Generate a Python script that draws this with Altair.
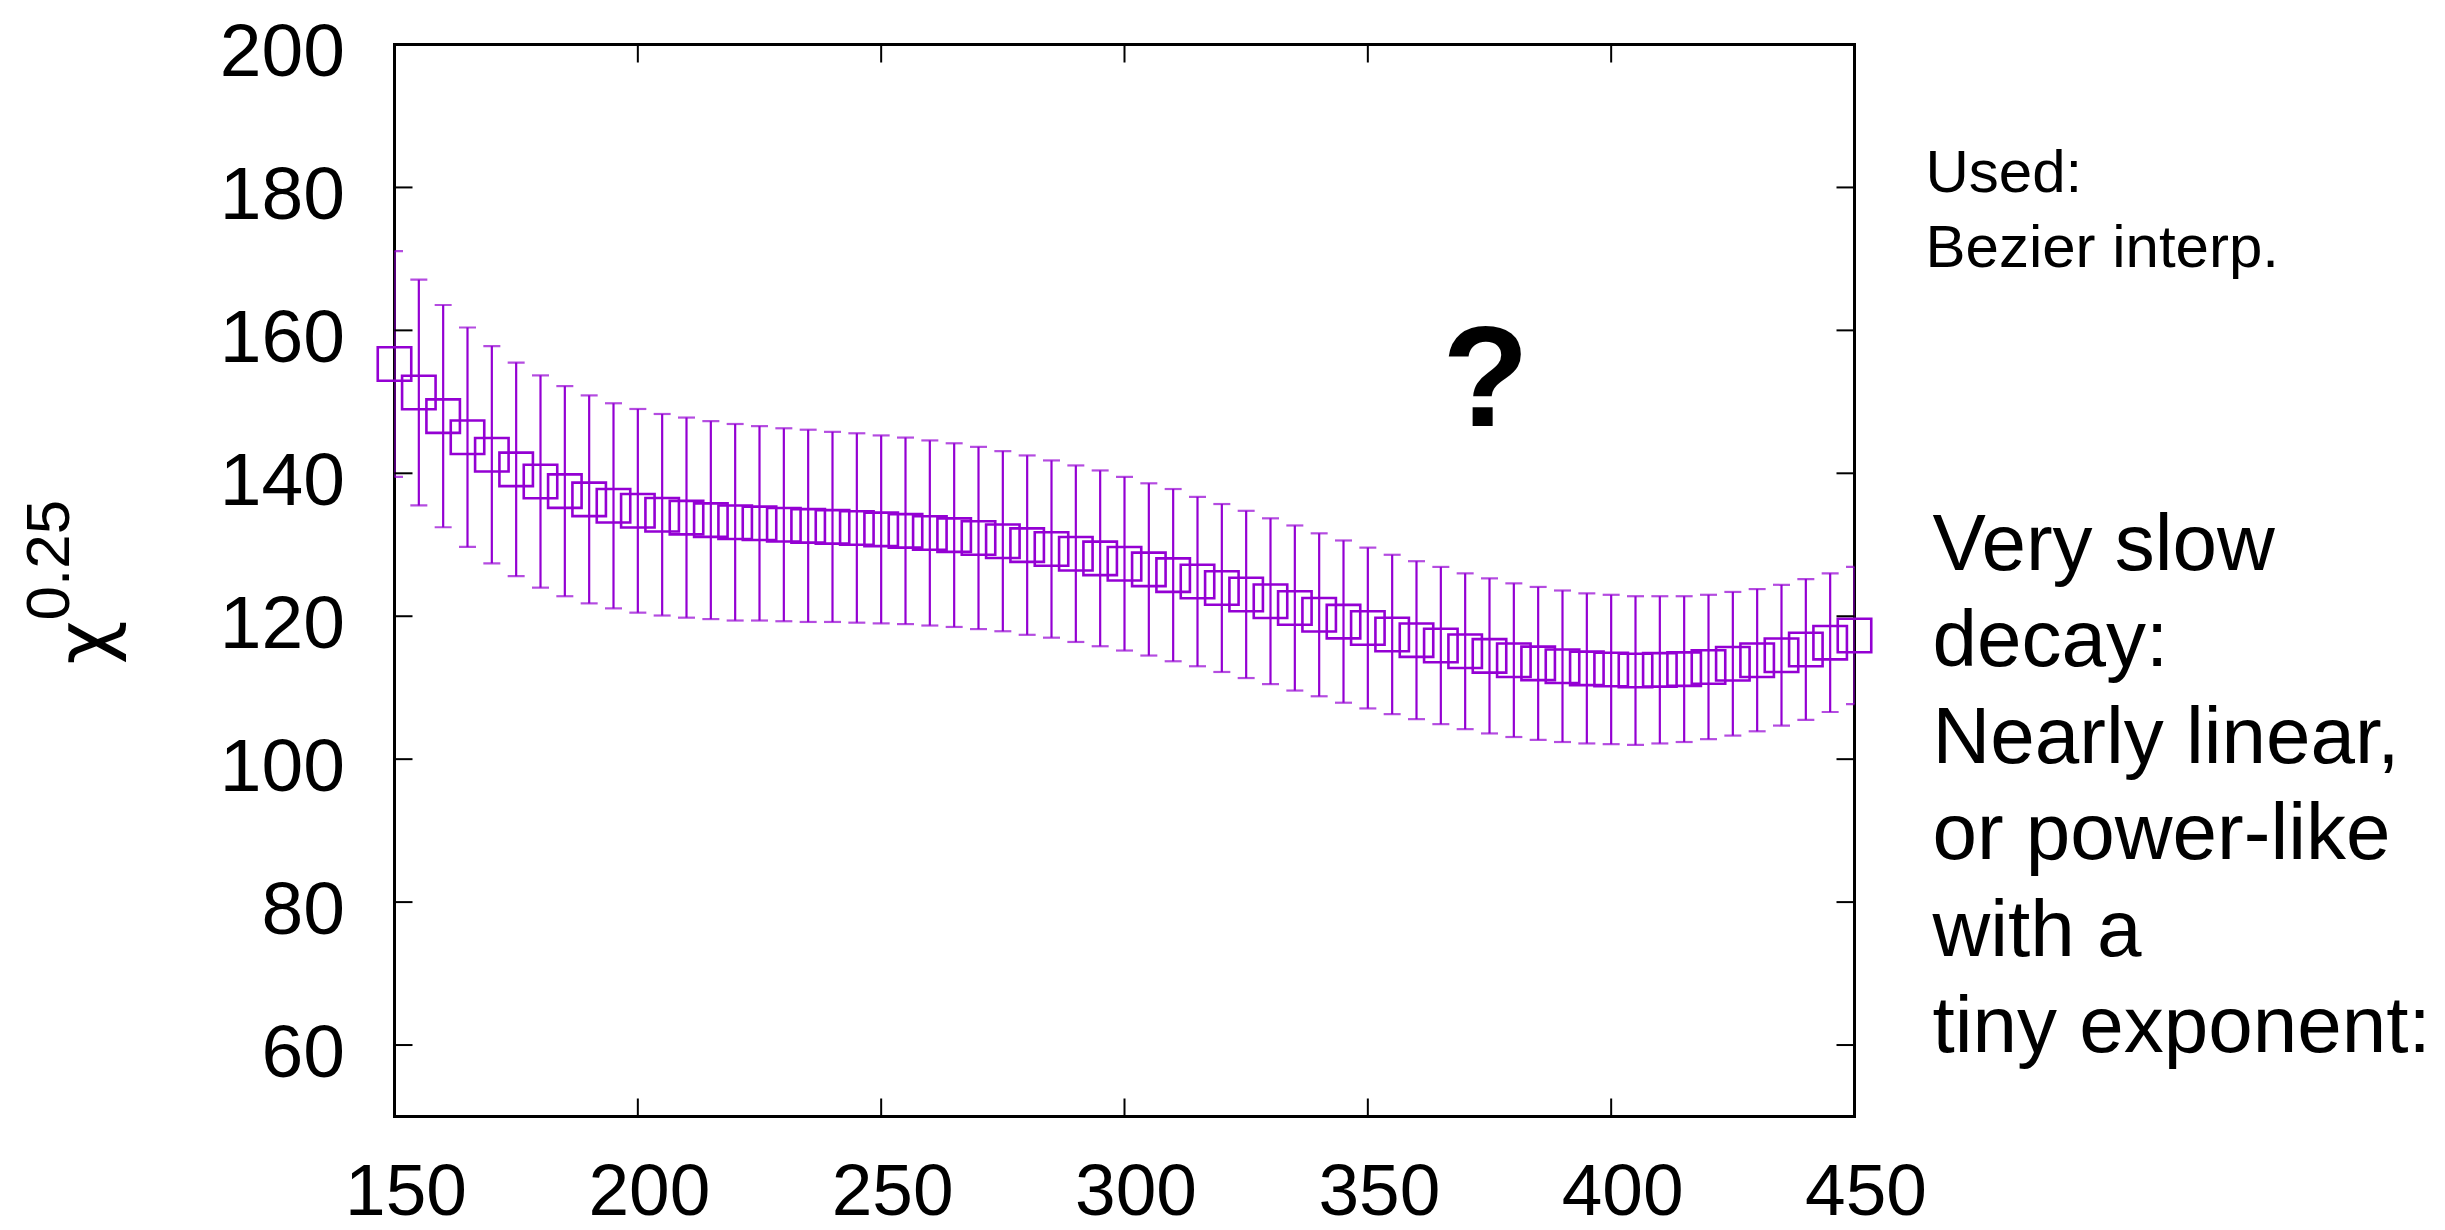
import altair as alt
import pandas as pd

# temperature grid and chi^0.25 estimates with their uncertainties
x_vals = [150, 155, 160, 165, 170, 175, 180, 185, 190, 195,
          200, 205, 210, 215, 220, 225, 230, 235, 240, 245,
          250, 255, 260, 265, 270, 275, 280, 285, 290, 295,
          300, 305, 310, 315, 320, 325, 330, 335, 340, 345,
          350, 355, 360, 365, 370, 375, 380, 385, 390, 395,
          400, 405, 410, 415, 420, 425, 430, 435, 440, 445,
          450]
chi_vals = [155.3, 151.3, 148.0, 145.05, 142.6, 140.55, 138.85, 137.5, 136.35, 135.45,
            134.75, 134.2, 133.8, 133.45, 133.15, 133.0, 132.8, 132.65, 132.5, 132.35,
            132.15, 131.95, 131.65, 131.35, 130.95, 130.5, 129.95, 129.4, 128.75, 128.1,
            127.35, 126.55, 125.75, 124.85, 123.95, 123.05, 122.1, 121.15, 120.2, 119.25,
            118.35, 117.45, 116.65, 115.9, 115.1, 114.45, 113.85, 113.4, 113.0, 112.7,
            112.55, 112.4, 112.5, 112.6, 112.9, 113.35, 113.85, 114.55, 115.35, 116.3,
            117.3]
err_vals = [15.8, 15.8, 15.55, 15.35, 15.2, 14.95, 14.85, 14.7, 14.55, 14.35,
            14.25, 14.1, 14.0, 13.85, 13.75, 13.6, 13.5, 13.45, 13.3, 13.25,
            13.15, 13.05, 12.95, 12.85, 12.75, 12.6, 12.55, 12.4, 12.35, 12.3,
            12.15, 12.05, 12.05, 11.85, 11.75, 11.7, 11.6, 11.55, 11.4, 11.35,
            11.25, 11.15, 11.05, 11.0, 10.9, 10.85, 10.75, 10.7, 10.6, 10.5,
            10.45, 10.4, 10.3, 10.2, 10.1, 10.05, 9.95, 9.85, 9.85, 9.7,
            9.6]

x_ticks = [150, 200, 250, 300, 350, 400, 450]
y_ticks = [60, 80, 100, 120, 140, 160, 180, 200]

note_top = ["Used:", "Bezier interp."]
note_main = ["Very slow", "decay:", "Nearly linear,", "or power-like", "with a", "tiny exponent:"]

W, H = 1460, 1072
PURPLE = "#9400D3"
FONT = "Liberation Sans"
TICK_LEN = 18

df = pd.DataFrame({"T": x_vals, "chi": chi_vals, "err": err_vals})
df["lo"] = df["chi"] - df["err"]
df["hi"] = df["chi"] + df["err"]

xscale = alt.Scale(domain=[150, 450], nice=False, zero=False)
yscale = alt.Scale(domain=[50, 200], nice=False, zero=False)

xaxis = alt.Axis(values=x_ticks, title=None, grid=False, ticks=False, tickSize=0, domain=False,
                 labelFont=FONT, labelFontSize=73, labelColor="black",
                 labelBaseline="alphabetic", labelPadding=98, labelOffset=11, labelFlush=False)
yaxis = alt.Axis(values=y_ticks, title=None, grid=False, ticks=False, tickSize=0, domain=False,
                 labelFont=FONT, labelFontSize=75, labelColor="black",
                 labelBaseline="alphabetic", labelOffset=31, labelPadding=50, labelFlush=False)

base = alt.Chart(df)

bars = base.mark_rule(color=PURPLE, strokeWidth=2.2, clip=True).encode(
    x=alt.X("T:Q", scale=xscale, axis=xaxis),
    y=alt.Y("lo:Q", scale=yscale, axis=yaxis),
    y2="hi:Q",
)
caps_lo = base.mark_tick(color=PURPLE, orient="horizontal", size=17, thickness=2.2, clip=True).encode(
    x=alt.X("T:Q", scale=xscale), y=alt.Y("lo:Q", scale=yscale))
caps_hi = base.mark_tick(color=PURPLE, orient="horizontal", size=17, thickness=2.2, clip=True).encode(
    x=alt.X("T:Q", scale=xscale), y=alt.Y("hi:Q", scale=yscale))
squares = base.mark_point(shape="square", filled=False, size=1122, strokeWidth=2.6,
                          color=PURPLE, opacity=1).encode(
    x=alt.X("T:Q", scale=xscale), y=alt.Y("chi:Q", scale=yscale))

# inward ticks on all four sides of the frame
xt = alt.Chart(pd.DataFrame({"v": x_ticks}))
yt = alt.Chart(pd.DataFrame({"v": y_ticks}))
tick_style = dict(color="black", strokeWidth=2)
ticks_bottom = xt.mark_rule(**tick_style).encode(
    x=alt.X("v:Q", scale=xscale), y=alt.value(H - TICK_LEN), y2=alt.value(H))
ticks_top = xt.mark_rule(**tick_style).encode(
    x=alt.X("v:Q", scale=xscale), y=alt.value(0), y2=alt.value(TICK_LEN))
ticks_left = yt.mark_rule(**tick_style).encode(
    y=alt.Y("v:Q", scale=yscale), x=alt.value(0), x2=alt.value(TICK_LEN))
ticks_right = yt.mark_rule(**tick_style).encode(
    y=alt.Y("v:Q", scale=yscale), x=alt.value(W - TICK_LEN), x2=alt.value(W))

one = alt.Chart(pd.DataFrame({"k": [0]}))

# y-axis title: chi with superscript exponent, rotated
chi_title = one.mark_text(text="χ", font="DejaVu Sans", fontSize=76, angle=270, align="left",
                          baseline="alphabetic", color="black").encode(
    x=alt.value(-285), y=alt.value(620))
chi_exp = one.mark_text(text="0.25", font=FONT, fontSize=62, angle=270, align="left",
                        baseline="alphabetic", color="black").encode(
    x=alt.value(-326), y=alt.value(576))

question = one.mark_text(text="?", font=FONT, fontSize=142, fontWeight="bold", align="center",
                         baseline="alphabetic", color="black").encode(
    x=alt.value(1091), y=alt.value(381))

used_note = one.mark_text(text=note_top, font=FONT, fontSize=60, lineHeight=75, align="left",
                          baseline="alphabetic", color="black").encode(
    x=alt.value(1531), y=alt.value(147))
main_note = one.mark_text(text=note_main, font=FONT, fontSize=80, lineHeight=96.5, align="left",
                          baseline="alphabetic", color="black").encode(
    x=alt.value(1538), y=alt.value(525))

chart = alt.layer(
    bars, caps_lo, caps_hi, squares,
    ticks_bottom, ticks_top, ticks_left, ticks_right,
    chi_title, chi_exp, question, used_note, main_note,
).properties(
    width=W, height=H,
    autosize=alt.AutoSizeParams(type="none"),
    padding={"left": 394.5, "top": 44.5, "right": 590.5, "bottom": 113.5},
    background="white",
).configure_view(
    stroke="black", strokeWidth=3,
)

chart.save("out.html", embed_options={"renderer": "svg", "actions": False})
